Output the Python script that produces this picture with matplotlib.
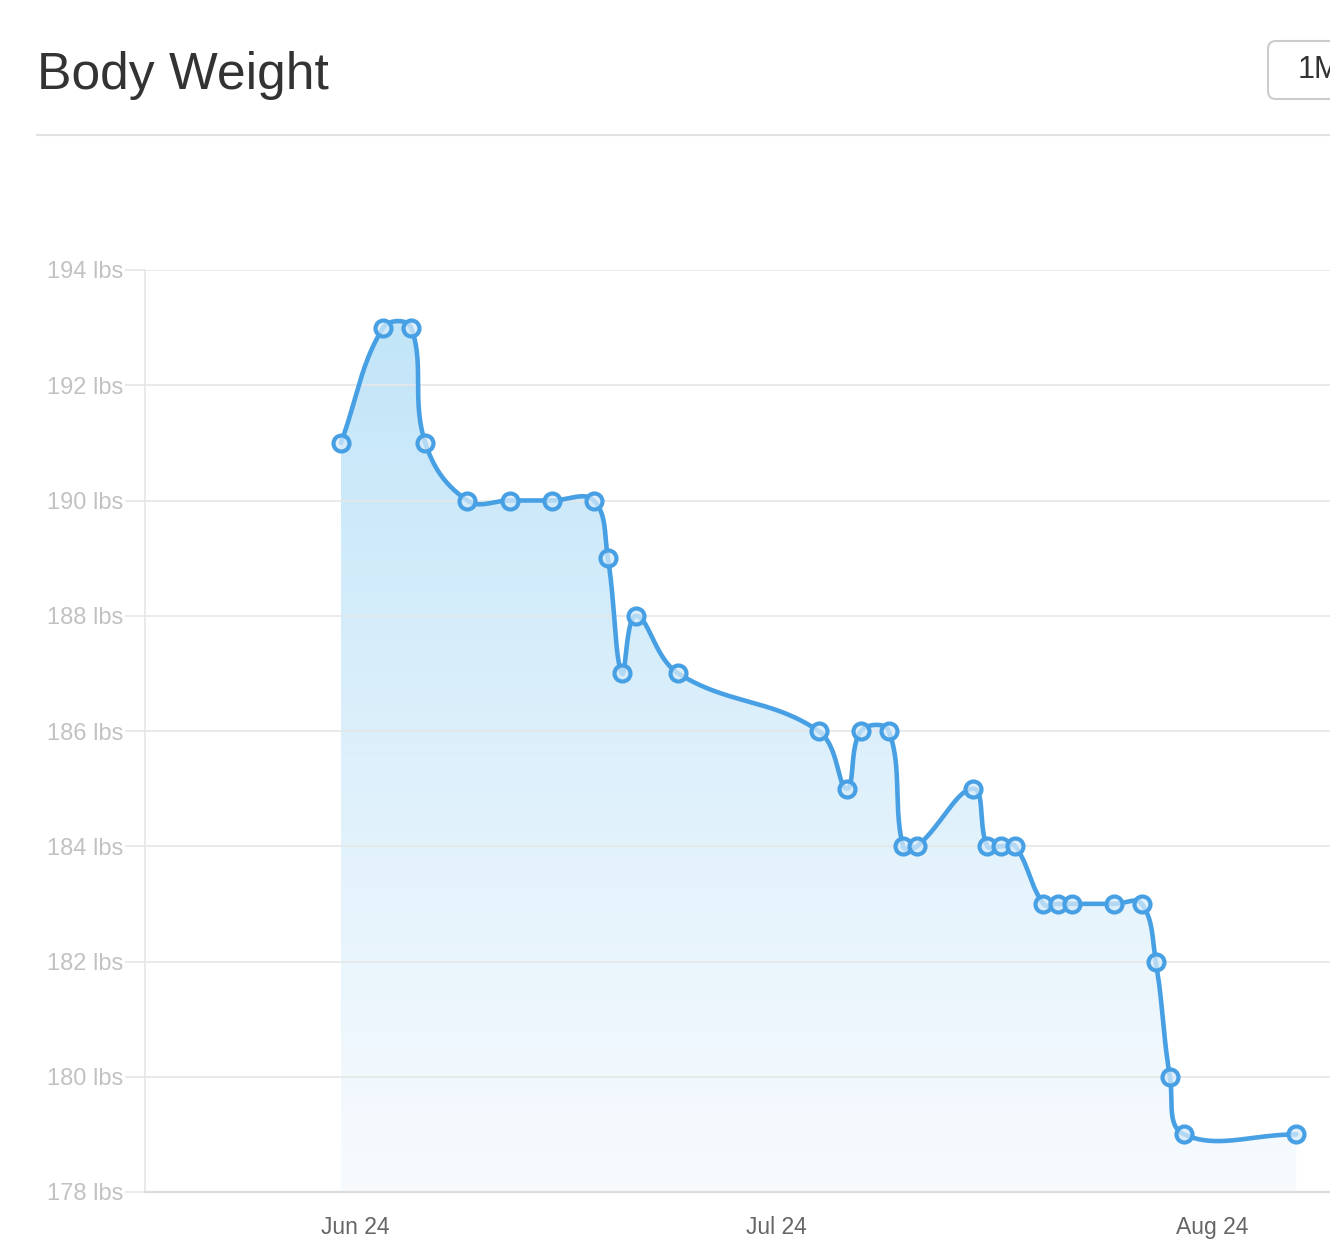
import numpy as np
import matplotlib
matplotlib.use('Agg')
import matplotlib.pyplot as plt
import matplotlib.dates as mdates
from matplotlib.lines import Line2D
from matplotlib.patches import FancyBboxPatch
from matplotlib.transforms import IdentityTransform
from datetime import datetime

plt.rcParams['font.family'] = ['Liberation Sans', 'DejaVu Sans']

# data
dates = ['06-23', '06-26', '06-28', '06-29', '07-02', '07-05', '07-08', '07-11',
         '07-12', '07-13', '07-14', '07-17', '07-27', '07-29', '07-30', '08-01',
         '08-02', '08-03', '08-07', '08-08', '08-09', '08-10', '08-12', '08-13',
         '08-14', '08-17', '08-19', '08-20', '08-21', '08-22', '08-30']
weights = [191, 193, 193, 191, 190, 190, 190, 190,
           189, 187, 188, 187, 186, 185, 186, 186,
           184, 184, 185, 184, 184, 184, 183, 183,
           183, 183, 183, 182, 180, 179, 179]
tick_dates = ['06-24', '07-24', '08-24']
y_ticks = [178, 180, 182, 184, 186, 188, 190, 192, 194]

YEAR = 2016
def to_num(s):
    return mdates.date2num(datetime.strptime('%d-%s' % (YEAR, s), '%Y-%m-%d'))

x = np.array([to_num(d) for d in dates])
y = np.array(weights, dtype=float)


def spline_pixels(P, t=0.4, n=40):
    """Chart.js style tension spline, works on display (pixel) coords"""
    N = len(P)
    prev_c = P.copy()
    next_c = P.copy()
    for i in range(N):
        a = P[max(i - 1, 0)]
        b = P[i]
        c = P[min(i + 1, N - 1)]
        d01 = np.hypot(*(b - a))
        d12 = np.hypot(*(c - b))
        tot = d01 + d12
        s01 = d01 / tot if tot else 0
        s12 = d12 / tot if tot else 0
        prev_c[i] = b - t * s01 * (c - a)
        next_c[i] = b + t * s12 * (c - a)
    u = np.linspace(0, 1, n)[:, None]
    out = []
    for i in range(N - 1):
        p0, p1, p2, p3 = P[i], next_c[i], prev_c[i + 1], P[i + 1]
        out.append((1 - u) ** 3 * p0 + 3 * (1 - u) ** 2 * u * p1
                   + 3 * (1 - u) * u ** 2 * p2 + u ** 3 * p3)
    return np.vstack(out)


W, H = 1330, 1259
fig = plt.figure(figsize=(W / 100, H / 100), dpi=100)

# plot area in pixels (right edge runs past the picture)
left_px, right_px, top_px, bottom_px = 145, 1460, 270, 1192
px_per_day = 14.05
ref = to_num('06-24')
ref_px = 355
ax = fig.add_axes([left_px / W, (H - bottom_px) / H,
                   (right_px - left_px) / W, (bottom_px - top_px) / H])
ax.set_xlim(ref - (ref_px - left_px) / px_per_day, ref + (right_px - ref_px) / px_per_day)
ax.set_ylim(178, 194)

line_col = '#48a0e4'
pix = ax.transData.transform(np.column_stack([x, y]))
curve = ax.transData.inverted().transform(spline_pixels(pix))
bx, by = curve[:, 0], curve[:, 1]

poly = ax.fill_between(bx, by, 178, color='none', lw=0)
grad = np.zeros((256, 1, 4))
top_c = np.array(matplotlib.colors.to_rgb('#bfe4f8'))
bot_c = np.array(matplotlib.colors.to_rgb('#f8fbfe'))
for k in range(256):
    f = k / 255
    grad[k, 0, :3] = top_c * (1 - f) + bot_c * f
    grad[k, 0, 3] = 1
im = ax.imshow(grad, extent=[x[0], x[-1], 178, 194], aspect='auto',
               origin='upper', zorder=1)
im.set_clip_path(poly.get_paths()[0], transform=ax.transData)

ax.plot(bx, by, color=line_col, lw=3.3, zorder=3, solid_capstyle='round')
ax.plot(x, y, 'o', ms=11.5, mew=3, mec=line_col,
        mfc=(0.84, 0.92, 0.98, 0.75), zorder=4)

ax.set_xlim(ref - (ref_px - left_px) / px_per_day, ref + (right_px - ref_px) / px_per_day)
ax.set_ylim(178, 194)

ax.set_yticks(y_ticks)
ax.set_yticklabels(['%d lbs' % v for v in y_ticks])
ax.set_xticks([to_num(d) for d in tick_dates])
ax.xaxis.set_major_formatter(mdates.DateFormatter('%b %d'))

ax.grid(axis='y', color='#e6e6e6', lw=1.2, zorder=0)
ax.grid(axis='x', visible=False)
ax.tick_params(axis='y', length=14.5, width=1.2, color='#e6e6e6', pad=1,
               labelsize=17, labelcolor='#c2c2c2')
ax.tick_params(axis='x', length=0, pad=17, labelsize=16.5, labelcolor='#666666')
for s in ['top', 'right']:
    ax.spines[s].set_visible(False)
ax.spines['left'].set_color('#e6e6e6')
ax.spines['left'].set_linewidth(1.2)
ax.spines['bottom'].set_color('#dcdcdc')
ax.spines['bottom'].set_linewidth(1.6)
ax.set_facecolor('none')

# header
fig.text(37 / W, (H - 89) / H, 'Body Weight', fontsize=37.2, color='#333333',
         va='baseline', ha='left')
fig.add_artist(Line2D([37 / W, 1], [(H - 135) / H] * 2, transform=fig.transFigure,
                      color='#e2e2e2', lw=1.5))
btn = FancyBboxPatch((1268, H - 99), 150, 58, boxstyle='round,pad=0,rounding_size=8',
                     transform=IdentityTransform(), fc='white', ec='#cccccc', lw=1.5)
fig.add_artist(btn)
fig.text(1298 / W, (H - 70) / H, '1M', fontsize=22, color='#333333',
         va='center', ha='left')

fig.savefig('out.png', dpi=100)
